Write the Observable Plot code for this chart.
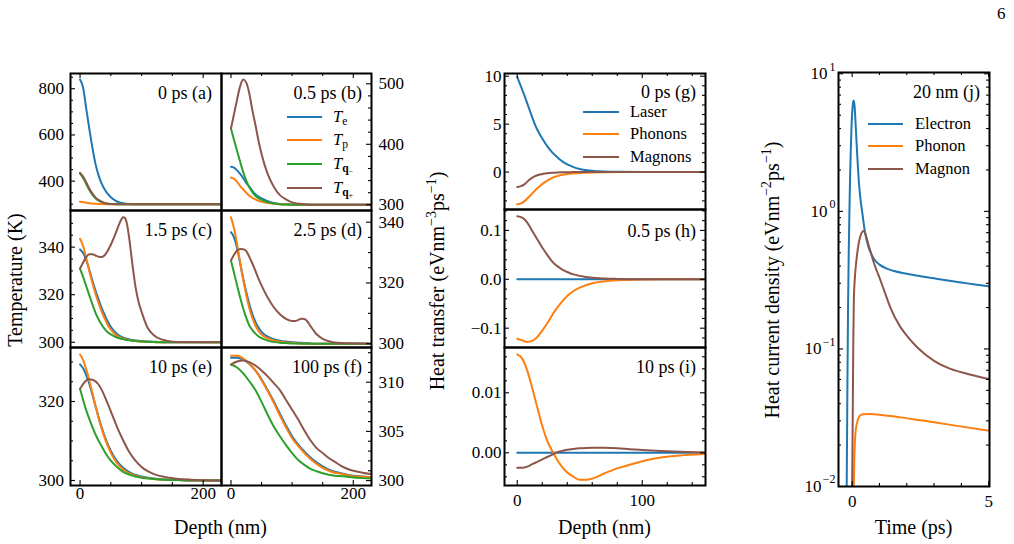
<!DOCTYPE html>
<html>
<head>
<meta charset="utf-8">
<script src="https://cdn.jsdelivr.net/npm/d3@7"></script>
<script src="https://cdn.jsdelivr.net/npm/@observablehq/plot@0.6"></script>
<style>
  body { margin: 0; background: #fff; }
  #root { position: relative; width: 1014px; height: 544px; overflow: hidden; font-family: "Liberation Serif", "DejaVu Serif", serif; color: #000; background: #fff; }
  .t { position: absolute; white-space: nowrap; line-height: 1; }
  .t sub, .t sup { font-size: 70%; line-height: 0; }
  .t sub { vertical-align: -0.3em; }
  .t sup { vertical-align: 0.55em; }
</style>
</head>
<body>
<div id="root"></div>
<script>
// ---------------- DATA ----------------
const colors = { e: "#1f77b4", p: "#ff7f0e", qm: "#2ca02c", qp: "#8c564b" };

// (a) 0 ps
const depthA = [0,5,10,15,20,25,30,35,40,50,60,70,80,90,100,120,150,230];
const aTe  = [840,804,715,628,546,476,426,390,364,330,312,304,301,300.3,300,300,300,300];
const aTp  = [311,309.5,307,304.5,302.8,301.7,301,300.6,300.3,300.1,300,300,300,300,300,300,300,300];
const aTqm = [434,414,388,362,342,326,316,309.5,305,300.8,300.1,300,300,300,300,300,300,300];
const aTqp = [436,420,395,368,347,330,319,311.5,306,301,300.2,300,300,300,300,300,300,300];

// (b) 0.5 ps
const depthB = [0,5,10,15,20,25,30,35,40,45,50,60,70,80,90,100,120,140,230];
const bTe  = [363,361.5,357,351,344,336,330,323,317.5,313.5,310.5,306,303,301.5,300.8,300.4,300,300,300];
const bTp  = [344.6,343,338,331,325.5,320,315,311.5,309,306.5,305,303,301.8,301,300.5,300.2,300,300,300];
const bTqm = [426,407,389,371,354,340,329,321,315,311,308,304,302,301,300.5,300.2,300,300,300];
const bTqp = [426,450,474,496,507,502,484,456,432,406,384,351,330,316,309,304,301,300,300];

// (c) 1.5 ps
const depthC = [0,5,10,15,20,25,30,35,40,45,50,55,60,65,70,73,76,80,85,90,95,100,110,120,130,140,160,230];
const cTe  = [339,337.5,334.5,330.5,326,321.8,318,314.5,311.5,308.7,306.5,304.8,303.5,302.6,302,301.7,301.5,301.2,301,300.8,300.6,300.5,300.3,300.2,300.1,300,300,300];
const cTp  = [343.5,340.5,335.5,330,325,320.5,316.5,313,310,307.3,305.3,303.8,302.7,302,301.5,301.3,301.1,300.9,300.7,300.5,300.4,300.3,300.2,300.1,300,300,300,300];
const cTqm = [331,327.5,323.6,319.8,316,312.5,309.7,307.5,305.6,304.2,303.3,302.6,302,301.6,301.3,301.1,301,300.8,300.6,300.5,300.4,300.3,300.2,300.1,300,300,300,300];
const cTqp = [331,333.5,335.8,337,337,336.5,336,335.9,336.6,338.5,341,344,347.3,350.5,352.6,352.3,350,343.5,333,323.5,317,312.8,306,303,301.4,300.7,300.1,300];

// (d) 2.5 ps
const depthD = [0,5,10,15,20,25,30,35,40,45,50,60,70,80,90,100,105,110,115,120,125,130,140,150,160,180,230];
const dTe  = [336.7,335,331.5,326.5,321.5,317,313,309.7,307.2,305.3,303.9,302.3,301.5,301,300.7,300.5,300.4,300.3,300.3,300.2,300.2,300.1,300,300,300,300,300];
const dTp  = [341.6,338,332.8,326.7,321,316,311.7,308.5,306,304.2,303,301.8,301.1,300.7,300.4,300.3,300.2,300.1,300.1,300.1,300,300,300,300,300,300,300];
const dTqm = [327.4,323.3,319.2,315.2,311.6,308.5,306,304.5,303.3,302.4,301.8,301,300.6,300.3,300.2,300.1,300.1,300.1,300,300,300,300,300,300,300,300,300];
const dTqp = [327.4,329.3,330.7,331.2,331.1,330.5,328.6,326.4,324,321.4,319.2,315.2,312,309.7,308.2,307.5,307.5,307.8,308.2,308.1,307.3,305.8,303.1,301.6,300.8,300.2,300];

// (e) 10 ps
const depthE = [0,5,10,15,20,25,30,35,40,50,60,70,80,90,100,120,140,160,180,230];
const eTe  = [329.4,328.4,326.7,324.5,321.8,318.9,316.1,313.5,311.2,307.5,304.9,303.2,302.1,301.4,301,300.5,300.2,300.1,300,300];
const eTp  = [331.9,330.5,328.2,325.4,322.2,319,315.9,313.2,310.8,307,304.4,302.8,301.8,301.2,300.8,300.4,300.2,300.1,300,300];
const eTqm = [323.2,320.4,317.8,315.6,313.6,311.7,310.1,308.7,307.3,305,303.4,302.2,301.5,301,300.7,300.4,300.2,300.1,300,300];
const eTqp = [323.2,324.4,325.3,325.6,325.5,325.1,324.3,323,321.3,317.5,313.6,310.2,307.2,305,303.4,301.6,300.8,300.4,300.2,300];

// (f) 100 ps
const depthF = [0,10,20,30,40,50,60,70,80,90,100,110,120,130,140,150,160,170,180,190,200,215,230];
const fTe  = [312.5,312.5,312.3,311.85,311.2,310.3,309.2,308.05,306.8,305.6,304.5,303.65,302.95,302.35,301.85,301.45,301.1,300.9,300.75,300.6,300.5,300.42,300.37];
const fTp  = [312.7,312.7,312.4,311.9,311.2,310.2,309.1,307.9,306.6,305.4,304.3,303.5,302.8,302.2,301.7,301.3,301,300.8,300.7,300.55,300.45,300.4,300.35];
const fTqm = [311.8,311.5,310.9,310.1,309.2,308,306.7,305.5,304.5,303.6,302.8,302.1,301.6,301.2,300.95,300.75,300.6,300.5,300.45,300.4,300.32,300.25,300.2];
const fTqp = [311.8,312.1,312.2,312.05,311.7,311.2,310.6,309.9,309.2,308.2,307.2,306.2,305.1,304.1,303.3,302.8,302.3,301.9,301.5,301.2,301,300.8,300.65];

// (g) 0 ps heat transfer
const depthG = [0,3,6,9,12,15,18,21,24,28,32,36,40,45,50,60,70,80,100,125,150];
const gLaser   = [9.9,8.9,7.9,6.8,5.7,4.7,3.95,3.3,2.7,2.05,1.55,1.12,0.8,0.52,0.33,0.14,0.06,0.03,0.01,0,0];
const gPhonons = [-3.36,-3.27,-3.0,-2.63,-2.22,-1.82,-1.47,-1.15,-0.88,-0.6,-0.42,-0.28,-0.2,-0.14,-0.09,-0.04,-0.015,0,0,0,0];
const gMagnons = [-1.56,-1.47,-1.25,-0.88,-0.58,-0.38,-0.26,-0.17,-0.11,-0.06,-0.03,-0.015,-0.01,0,0,0,0,0,0,0,0];

// (h) 0.5 ps
const depthH = [0,4,8,12,16,20,24,28,32,36,40,45,50,60,70,80,100,125,150];
const hLaser   = [0,0,0,0,0,0,0,0,0,0,0,0,0,0,0,0,0,0,0];
const hPhonons = [-0.1215,-0.125,-0.128,-0.126,-0.118,-0.105,-0.09,-0.073,-0.058,-0.045,-0.034,-0.024,-0.017,-0.008,-0.004,-0.002,-0.0005,0,0];
const hMagnons = [0.129,0.126,0.116,0.099,0.082,0.065,0.05,0.036,0.027,0.02,0.015,0.01,0.007,0.003,0.0015,0.0008,0.0002,0,0];

// (i) 10 ps
const depthI = [0,4,8,12,16,20,24,28,32,36,40,45,50,55,60,70,80,90,100,115,130,150];
const iLaser   = [0,0,0,0,0,0,0,0,0,0,0,0,0,0,0,0,0,0,0,0,0,0];
const iPhonons = [0.0164,0.0157,0.0137,0.0108,0.0076,0.0045,0.002,0.0003,-0.0012,-0.0024,-0.0033,-0.004,-0.0045,-0.0045,-0.0043,-0.0034,-0.0026,-0.002,-0.0014,-0.0008,-0.00045,-0.0002];
const iMagnons = [-0.0025,-0.0025,-0.0023,-0.0019,-0.0015,-0.0011,-0.0007,-0.0003,0.0001,0.0003,0.0005,0.00065,0.00076,0.00082,0.00085,0.00083,0.00075,0.0006,0.00047,0.0003,0.00017,0.00005];

// (j) 20 nm heat current density
const tElectron = [-0.22,-0.2,-0.175,-0.15,-0.125,-0.1,-0.075,-0.05,-0.025,0,0.03,0.06,0.09,0.12,0.16,0.2,0.25,0.3,0.38,0.45,0.5,0.6,0.7,0.8,1.0,1.25,1.5,2,2.5,3,3.5,4,4.5,5];
const jElectron = [0.005,0.01,0.05,0.2,0.5,1.0,1.8,2.8,4.0,5.2,6.1,6.4,5.8,4.6,3.2,2.3,1.6,1.25,0.95,0.75,0.66,0.55,0.49,0.45,0.41,0.385,0.37,0.352,0.338,0.326,0.314,0.304,0.294,0.285];
const tPhonon = [0.04,0.06,0.08,0.1,0.13,0.18,0.28,0.4,0.7,1.0,1.77,2.5,3.0,4.2,5.0];
const jPhonon = [0.005,0.01,0.016,0.021,0.0255,0.029,0.0327,0.0335,0.0336,0.0332,0.0318,0.0303,0.0293,0.0269,0.0255];
const tMagnon = [-0.02,0,0.02,0.04,0.06,0.1,0.15,0.2,0.25,0.3,0.37,0.43,0.5,0.6,0.7,0.8,0.9,1.0,1.16,1.4,1.77,2.0,2.38,3.0,3.6,4.2,5.0];
const jMagnon = [0.005,0.01,0.03,0.1,0.22,0.33,0.43,0.52,0.6,0.66,0.71,0.72,0.67,0.57,0.49,0.42,0.37,0.33,0.27,0.2,0.144,0.125,0.103,0.082,0.0716,0.066,0.0605];

// tick values
const depthMajorAF = [0, 200], depthMinorAF = [50, 100, 150];
const depthMajorGI = [0, 100], depthMinorGI = [20, 40, 60, 80, 120, 140];
const timeMajor = [0, 5], timeMinor = [1, 2, 3, 4];
const aMajor = [400, 600, 800], aMinor = [300, 350, 450, 500, 550, 650, 700, 750, 850];
const bMajor = [300, 400, 500], bMinor = [320, 340, 360, 380, 420, 440, 460, 480];
const cMajor = [300, 320, 340], cMinor = [305, 310, 315, 325, 330, 335, 345, 350];
const dMajor = [300, 320, 340], dMinor = [305, 310, 315, 325, 330, 335];
const eMajor = [300, 320], eMinor = [305, 310, 315, 325, 330];
const fMajor = [300, 305, 310], fMinor = [301, 302, 303, 304, 306, 307, 308, 309, 311, 312, 313];
const gMajor = [0, 5, 10], gMinor = [-3, -2, -1, 1, 2, 3, 4, 6, 7, 8, 9];
const hMajor = [-0.1, 0, 0.1], hMinor = [-0.12, -0.08, -0.06, -0.04, -0.02, 0.02, 0.04, 0.06, 0.08, 0.12, 0.14];
const iMajor = [0, 0.01], iMinor = [-0.004, -0.002, 0.002, 0.004, 0.006, 0.008, 0.012, 0.014, 0.016];
const jMajor = [0.01, 0.1, 1, 10];
const jMinor = [0.02,0.03,0.04,0.05,0.06,0.07,0.08,0.09,0.2,0.3,0.4,0.5,0.6,0.7,0.8,0.9,2,3,4,5,6,7,8,9];
const jTickBase = "10";
const jTickExp = ["\u22122", "\u22121", "0", "1"];

// text
const notes = ["0 ps (a)", "0.5 ps (b)", "1.5 ps (c)", "2.5 ps (d)", "10 ps (e)", "100 ps (f)", "0 ps (g)", "0.5 ps (h)", "10 ps (i)", "20 nm (j)"];
const tempLegend = ["<i>T</i><sub>e</sub>", "<i>T</i><sub>p</sub>", "<i>T</i><sub><b>q</b><sub>\u2212</sub></sub>", "<i>T</i><sub><b>q</b><sub>+</sub></sub>"];
const transferLegend = ["Laser", "Phonons", "Magnons"];
const currentLegend = ["Electron", "Phonon", "Magnon"];

// ---------------- DRAWING ----------------
const root = document.getElementById("root");
const M = 45;
const FONT = "'Liberation Serif', 'DejaVu Serif', serif";
const TICK_FS = 17, NOTE_FS = 18, LEG_FS = 16.5, TITLE_FS = 20;
const minus = s => String(s).replace("-", "\u2212");

function inDom(v, d) { const lo = Math.min(d[0], d[1]), hi = Math.max(d[0], d[1]); return v >= lo - 1e-12 && v <= hi + 1e-12; }

function panel(o) {
  const W = o.w, H = o.h;
  const marks = [];
  for (const s of o.series) {
    const data = s.x.map((x, i) => ({x, y: s.y[i]}));
    marks.push(Plot.line(data, {x: "x", y: "y", stroke: s.color, strokeWidth: 2, curve: "monotone-x", clip: true}));
  }
  const yMaj = o.yMajor.filter(v => inDom(v, o.yDomain)), yMin = o.yMinor.filter(v => inDom(v, o.yDomain));
  const xMaj = o.xMajor.filter(v => inDom(v, o.xDomain)), xMin = o.xMinor.filter(v => inDom(v, o.xDomain));
  const ts = {stroke: "#000", strokeWidth: 1.1};
  for (const side of o.ySides) {
    for (const [vals, len] of [[yMaj, 5], [yMin, 3]]) {
      marks.push(Plot.tickY(vals, {y: d => d, ...ts, ...(side === "left" ? {insetRight: W - len} : {insetLeft: W - len})}));
    }
  }
  for (const side of o.xSides) {
    for (const [vals, len] of [[xMaj, 5], [xMin, 3]]) {
      marks.push(Plot.tickX(vals, {x: d => d, ...ts, ...(side === "top" ? {insetBottom: H - len} : {insetTop: H - len})}));
    }
  }
  if (o.yLabels) {
    const left = o.yLabels === "left";
    marks.push(Plot.text(yMaj, {y: d => d, text: o.yFmt, frameAnchor: o.yLabels, textAnchor: left ? "end" : "start", dx: left ? -o.yPad : o.yPad, fontSize: TICK_FS}));
  }
  if (o.xLabels) {
    marks.push(Plot.text(xMaj, {x: d => d, text: d => String(d), frameAnchor: "bottom", lineAnchor: "top", dy: o.xPad, fontSize: TICK_FS}));
  }
  marks.push(Plot.text([o.note], {text: d => d, frameAnchor: "top-right", textAnchor: "end", lineAnchor: "middle", dx: -9.5, dy: o.noteDy ?? 19.5, fontSize: NOTE_FS}));
  marks.push(Plot.frame({stroke: "#000", strokeWidth: 2}));
  const svg = Plot.plot({
    width: W + 2 * M, height: H + 2 * M, margin: M,
    x: {domain: o.xDomain, axis: null},
    y: {domain: o.yDomain, type: o.yType || "linear", axis: null},
    style: {background: "transparent", fontFamily: FONT, fontSize: TICK_FS + "px", overflow: "visible", maxWidth: "none"},
    marks
  });
  svg.style.position = "absolute";
  svg.style.left = (o.left - M) + "px";
  svg.style.top = (o.top - M) + "px";
  root.appendChild(svg);
  return svg;
}

const S = (x, y, color) => ({x, y, color});
const xAF = [-15.5, 229.8], xGI = [-10.2, 150.6];
const colL = 70, colR = 221;

panel({left: colL, top: 73, w: 151, h: 137, xDomain: xAF, yDomain: [273, 866],
  series: [S(depthA, aTe, colors.e), S(depthA, aTp, colors.p), S(depthA, aTqm, colors.qm), S(depthA, aTqp, colors.qp)],
  yMajor: aMajor, yMinor: aMinor, xMajor: depthMajorAF, xMinor: depthMinorAF,
  ySides: ["left"], xSides: ["top"], yLabels: "left", yPad: 6.5, yFmt: d => String(d), note: notes[0]});
panel({left: colR, top: 73, w: 150, h: 137, xDomain: xAF, yDomain: [290.6, 517],
  series: [S(depthB, bTe, colors.e), S(depthB, bTp, colors.p), S(depthB, bTqm, colors.qm), S(depthB, bTqp, colors.qp)],
  yMajor: bMajor, yMinor: bMinor, xMajor: depthMajorAF, xMinor: depthMinorAF,
  ySides: ["right"], xSides: ["top"], yLabels: "right", yPad: 7, yFmt: d => String(d), note: notes[1]});
panel({left: colL, top: 210, w: 151, h: 137, xDomain: xAF, yDomain: [297.8, 355.4],
  series: [S(depthC, cTe, colors.e), S(depthC, cTp, colors.p), S(depthC, cTqm, colors.qm), S(depthC, cTqp, colors.qp)],
  yMajor: cMajor, yMinor: cMinor, xMajor: depthMajorAF, xMinor: depthMinorAF,
  ySides: ["left"], xSides: [], yLabels: "left", yPad: 6.5, yFmt: d => String(d), note: notes[2]});
panel({left: colR, top: 210, w: 150, h: 137, xDomain: xAF, yDomain: [298.75, 343.85],
  series: [S(depthD, dTe, colors.e), S(depthD, dTp, colors.p), S(depthD, dTqm, colors.qm), S(depthD, dTqp, colors.qp)],
  yMajor: dMajor, yMinor: dMinor, xMajor: depthMajorAF, xMinor: depthMinorAF,
  ySides: ["right"], xSides: [], yLabels: "right", yPad: 7, yFmt: d => String(d), note: notes[3]});
panel({left: colL, top: 347, w: 151, h: 138, xDomain: xAF, yDomain: [298.73, 333.67],
  series: [S(depthE, eTe, colors.e), S(depthE, eTp, colors.p), S(depthE, eTqm, colors.qm), S(depthE, eTqp, colors.qp)],
  yMajor: eMajor, yMinor: eMinor, xMajor: depthMajorAF, xMinor: depthMinorAF,
  ySides: ["left"], xSides: ["bottom"], yLabels: "left", yPad: 6.5, yFmt: d => String(d), xLabels: true, xPad: 1.5, note: notes[4]});
panel({left: colR, top: 347, w: 150, h: 138, xDomain: xAF, yDomain: [299.5, 313.53],
  series: [S(depthF, fTe, colors.e), S(depthF, fTp, colors.p), S(depthF, fTqm, colors.qm), S(depthF, fTqp, colors.qp)],
  yMajor: fMajor, yMinor: fMinor, xMajor: depthMajorAF, xMinor: depthMinorAF,
  ySides: ["right"], xSides: ["bottom"], yLabels: "right", yPad: 7, yFmt: d => String(d), xLabels: true, xPad: 1.5, note: notes[5]});

panel({left: 504, top: 73, w: 201, h: 136, xDomain: xGI, yDomain: [-3.9, 10.28],
  series: [S(depthG, gLaser, colors.e), S(depthG, gPhonons, colors.p), S(depthG, gMagnons, colors.qp)],
  yMajor: gMajor, yMinor: gMinor, xMajor: depthMajorGI, xMinor: depthMinorGI,
  ySides: ["left", "right"], xSides: ["top"], yLabels: "left", yPad: 3, yFmt: d => minus(d), note: notes[6], noteDy: 19});
panel({left: 504, top: 209, w: 201, h: 138, xDomain: xGI, yDomain: [-0.1395, 0.1428],
  series: [S(depthH, hLaser, colors.e), S(depthH, hPhonons, colors.p), S(depthH, hMagnons, colors.qp)],
  yMajor: hMajor, yMinor: hMinor, xMajor: depthMajorGI, xMinor: depthMinorGI,
  ySides: ["left", "right"], xSides: [], yLabels: "left", yPad: 3, yFmt: d => minus(d.toFixed(1)), note: notes[7], noteDy: 22});
panel({left: 504, top: 347, w: 201, h: 138, xDomain: xGI, yDomain: [-0.00545, 0.01755],
  series: [S(depthI, iLaser, colors.e), S(depthI, iPhonons, colors.p), S(depthI, iMagnons, colors.qp)],
  yMajor: iMajor, yMinor: iMinor, xMajor: depthMajorGI, xMinor: depthMinorGI,
  ySides: ["left", "right"], xSides: ["bottom"], yLabels: "left", yPad: 3, yFmt: d => minus(d.toFixed(2)), xLabels: true, xPad: 8, note: notes[8]});

// (j): log axis
panel({left: 838, top: 72, w: 151, h: 414, xDomain: [-0.5, 5.03], yDomain: [0.01, 10.22], yType: "log",
  series: [S(tElectron, jElectron, colors.e), S(tPhonon, jPhonon, colors.p), S(tMagnon, jMagnon, colors.qp)],
  yMajor: jMajor, yMinor: jMinor, xMajor: timeMajor, xMinor: timeMinor,
  ySides: ["left", "right"], xSides: ["top", "bottom"], yLabels: null, xLabels: true, xPad: 8, note: notes[9]});
// (j) tick labels "10" with raised exponents, on the same log y scale
(function () {
  const W = 151, H = 414;
  const expWidth = e => e.length > 1 ? 13 : 7;
  const marks = [
    Plot.text(jMajor, {y: d => d, text: (d, i) => jTickExp[i], frameAnchor: "left", textAnchor: "end", dx: -3, dy: -7, fontSize: 12}),
    Plot.text(jMajor, {y: d => d, text: () => jTickBase, frameAnchor: "left", textAnchor: "end", fontSize: TICK_FS})
  ];
  const svg = Plot.plot({
    width: W + 2 * M, height: H + 2 * M, margin: M,
    x: {domain: [-0.5, 5.03], axis: null},
    y: {domain: [0.01, 10.22], type: "log", axis: null},
    style: {background: "transparent", fontFamily: FONT, overflow: "visible", maxWidth: "none"},
    marks
  });
  const groups = svg.querySelectorAll("g[aria-label='text']");
  groups[1].querySelectorAll("text").forEach((t, i) => {
    const w = expWidth(jTickExp[i]) + 4;
    const tr = t.getAttribute("transform") || "";
    t.setAttribute("transform", tr + ` translate(${-w},0)`);
  });
  svg.style.position = "absolute";
  svg.style.left = (838 - M) + "px";
  svg.style.top = (72 - M) + "px";
  root.appendChild(svg);
})();

// ---------------- HTML text: legends, axis titles ----------------
function addText(html, css) {
  const d = document.createElement("div");
  d.className = "t";
  d.innerHTML = html;
  d.style.cssText += css;
  root.appendChild(d);
  return d;
}
function legend(labels, cols, x1, x2, tx, ys) {
  labels.forEach((lab, i) => {
    const ln = document.createElement("div");
    ln.style.cssText = `position:absolute;left:${x1}px;top:${ys[i] - 1}px;width:${x2 - x1}px;height:2px;background:${cols[i]}`;
    root.appendChild(ln);
    addText(lab, `left:${tx}px;top:${ys[i]}px;transform:translateY(-50%);font-size:${LEG_FS}px;`);
  });
}
legend(tempLegend, [colors.e, colors.p, colors.qm, colors.qp], 287, 322, 333, [117, 140, 164, 188]);
legend(transferLegend, [colors.e, colors.p, colors.qp], 583, 619, 630, [111.5, 134, 156.5]);
legend(currentLegend, [colors.e, colors.p, colors.qp], 868, 903, 915, [123.5, 146, 168.5]);

function rotTitle(html, cx, cy) {
  addText(html, `left:${cx}px;top:${cy}px;transform:translate(-50%,-50%) rotate(-90deg);font-size:${TITLE_FS}px;`);
}
function hTitle(html, cx, cy) {
  addText(html, `left:${cx}px;top:${cy}px;transform:translate(-50%,-50%);font-size:${TITLE_FS}px;`);
}
rotTitle("Temperature (K)", 15, 280);
rotTitle("Heat transfer (eVnm<sup>\u22123</sup>ps<sup>\u22121</sup>)", 437, 281);
rotTitle("Heat current density (eVnm<sup>\u22122</sup>ps<sup>\u22121</sup>)", 772, 280);
hTitle("Depth (nm)", 220.5, 527);
hTitle("Depth (nm)", 604.5, 527);
hTitle("Time (ps)", 913.5, 527);
addText("6", "left:997px;top:5px;font-size:17px;");
</script>
</body>
</html>
